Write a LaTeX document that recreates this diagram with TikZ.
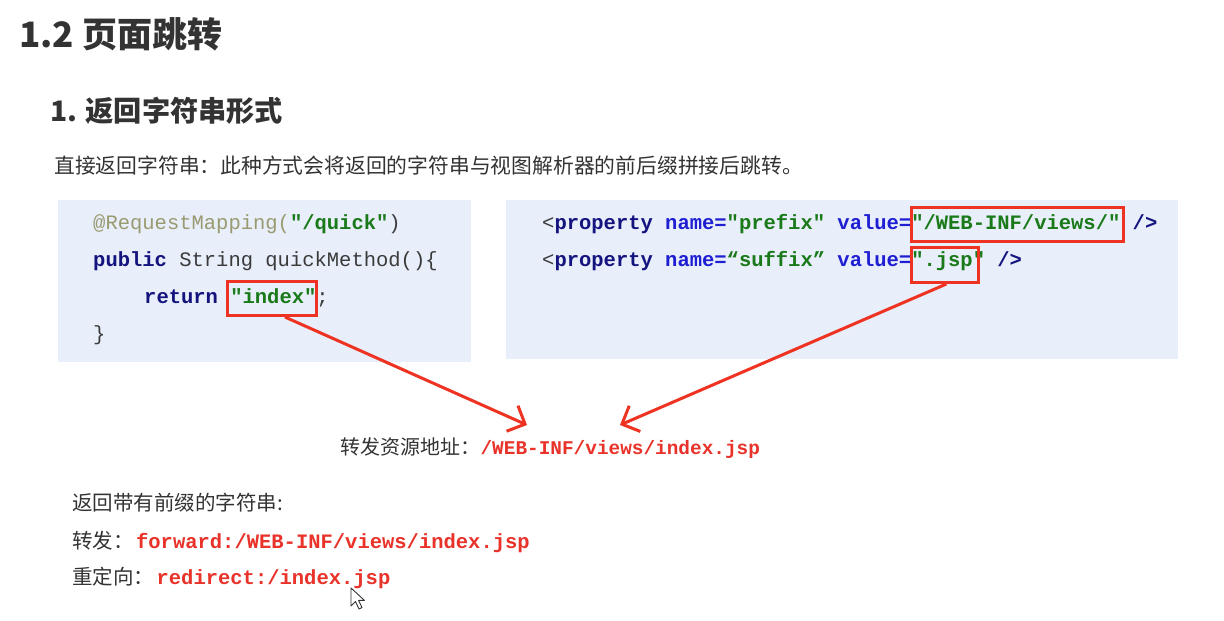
\documentclass[tikz,border=0pt]{standalone}
\usepackage{fontspec}
\usetikzlibrary{arrows.meta,calc}
\newfontfamily\cjk{Noto Sans CJK SC}
\newfontfamily\mono{Liberation Mono}

\definecolor{ink}{HTML}{333333}
\definecolor{codebg}{HTML}{E8EEFA}
\definecolor{hlred}{HTML}{EE3322}
\definecolor{pathred}{HTML}{E8322A}
\definecolor{kw}{HTML}{14147F}
\definecolor{attr}{HTML}{1E1ED2}
\definecolor{str}{HTML}{1A7A1A}
\definecolor{anno}{HTML}{9A9A70}
\definecolor{plain}{HTML}{3A3A3A}

\tikzset{
  heading/.style={anchor=base west, inner sep=0, text=ink},
  body/.style={anchor=base west, inner sep=0, text=ink, font=\cjk\fontsize{20.5}{24}\selectfont},
  code/.style={anchor=base west, inner sep=0, text=plain, font=\mono\fontsize{20.5}{24}\selectfont},
  redcode/.style={anchor=base west, inner sep=0, text=pathred, font=\mono\bfseries\fontsize{20.5}{24}\selectfont},
  codebox/.style={fill=codebg, draw=none, anchor=north west, inner sep=0},
  hlbox/.style={draw=hlred, line width=3pt, anchor=north west, inner sep=0},
  pointer/.style={draw=hlred, line width=3pt, -{Straight Barb[length=14pt,width=28pt,line width=3pt]}}
}

\begin{document}
\begin{tikzpicture}[x=1pt,y=-1pt]
  \useasboundingbox[fill=white] (0,0) rectangle (1224,621);

  % headings and intro line
  \node[heading, font=\cjk\bfseries\fontsize{35}{40}\selectfont] (title) at (19,47) {1.2 页面跳转};
  \node[heading, font=\cjk\bfseries\fontsize{28.2}{34}\selectfont] (subtitle) at (50,121) {1.\hspace{0.3em}返回字符串形式};
  \node[body, font=\cjk\fontsize{20.8}{24}\selectfont] (intro) at (54,173) {直接返回字符串：此种方式会将返回的字符串与视图解析器的前后缀拼接后跳转。};

  % code panels
  \node[codebox, minimum width=413pt, minimum height=162pt] (leftbox) at (58,200) {};
  \node[codebox, minimum width=672pt, minimum height=159pt] (rightbox) at (506,200) {};

  % controller method
  \node[code] (l1) at (93,229) {{\color{anno}@RequestMapping(}{\bfseries\color{str}"/quick"}{\color{plain})}};
  \node[code] (l2) at (93,266) {{\bfseries\color{kw}public} String quickMethod()\{};
  \node[code] (l3) at (144,303) {{\bfseries\color{kw}return} {\bfseries\color{str}"index"};};
  \node[code] (l4) at (93,340) {\}};

  % view resolver properties
  \node[code] (r1) at (542,229) {<{\bfseries\color{kw}property} {\bfseries\color{attr}name=}{\bfseries\color{str}"prefix"} {\bfseries\color{attr}value=}{\bfseries\color{str}"/WEB-INF/views/"} {\bfseries\color{kw}/>}};
  \node[code] (r2) at (542,266) {<{\bfseries\color{kw}property} {\bfseries\color{attr}name=}{\bfseries\color{str}“suffix”} {\bfseries\color{attr}value=}{\bfseries\color{str}".jsp"} {\bfseries\color{kw}/>}};

  % highlight frames
  \node[hlbox, minimum width=89pt, minimum height=34pt] (idxbox) at (226,280) {};
  \node[hlbox, minimum width=212pt, minimum height=34pt] (prebox) at (910,206) {};
  \node[hlbox, minimum width=67pt, minimum height=35pt] (sufbox) at (910,246) {};

  % resulting forward address
  \node[body, font=\cjk\fontsize{20}{24}\selectfont] (fwdlabel) at (340,454) {转发资源地址：};
  \node[redcode, font=\mono\bfseries\fontsize{19.4}{24}\selectfont] (fwdpath) at (fwdlabel.base east) {/WEB-INF/views/index.jsp};

  \coordinate (tipL) at (527,425);
  \coordinate (tipR) at (620,425);
  \draw[pointer] ($(idxbox.south west)!0.64!(idxbox.south east)$) -- (tipL);
  \draw[pointer] ($(sufbox.south west)!0.52!(sufbox.south east)$) -- (tipR);

  % prefixed return values
  \node[body] (prefixed) at (72,510) {返回带有前缀的字符串:};
  \node[body] (fwd) at (72,548) {转发：};
  \node[redcode] (fwdval) at ([xshift=2pt]fwd.base east) {forward:/WEB-INF/views/index.jsp};
  \node[body] (redir) at (72,584) {重定向：};
  \node[redcode] (redirval) at ([xshift=2pt]redir.base east) {redirect:/index.jsp};

  % mouse pointer
  \draw[fill=white, draw=ink, line width=0.9pt, line join=round]
    (351,588) -- (351,606) -- (355.5,601.5) -- (359,609) -- (362,607.6) -- (358.6,600.4) -- (364.5,600.4) -- cycle;
\end{tikzpicture}
\end{document}
